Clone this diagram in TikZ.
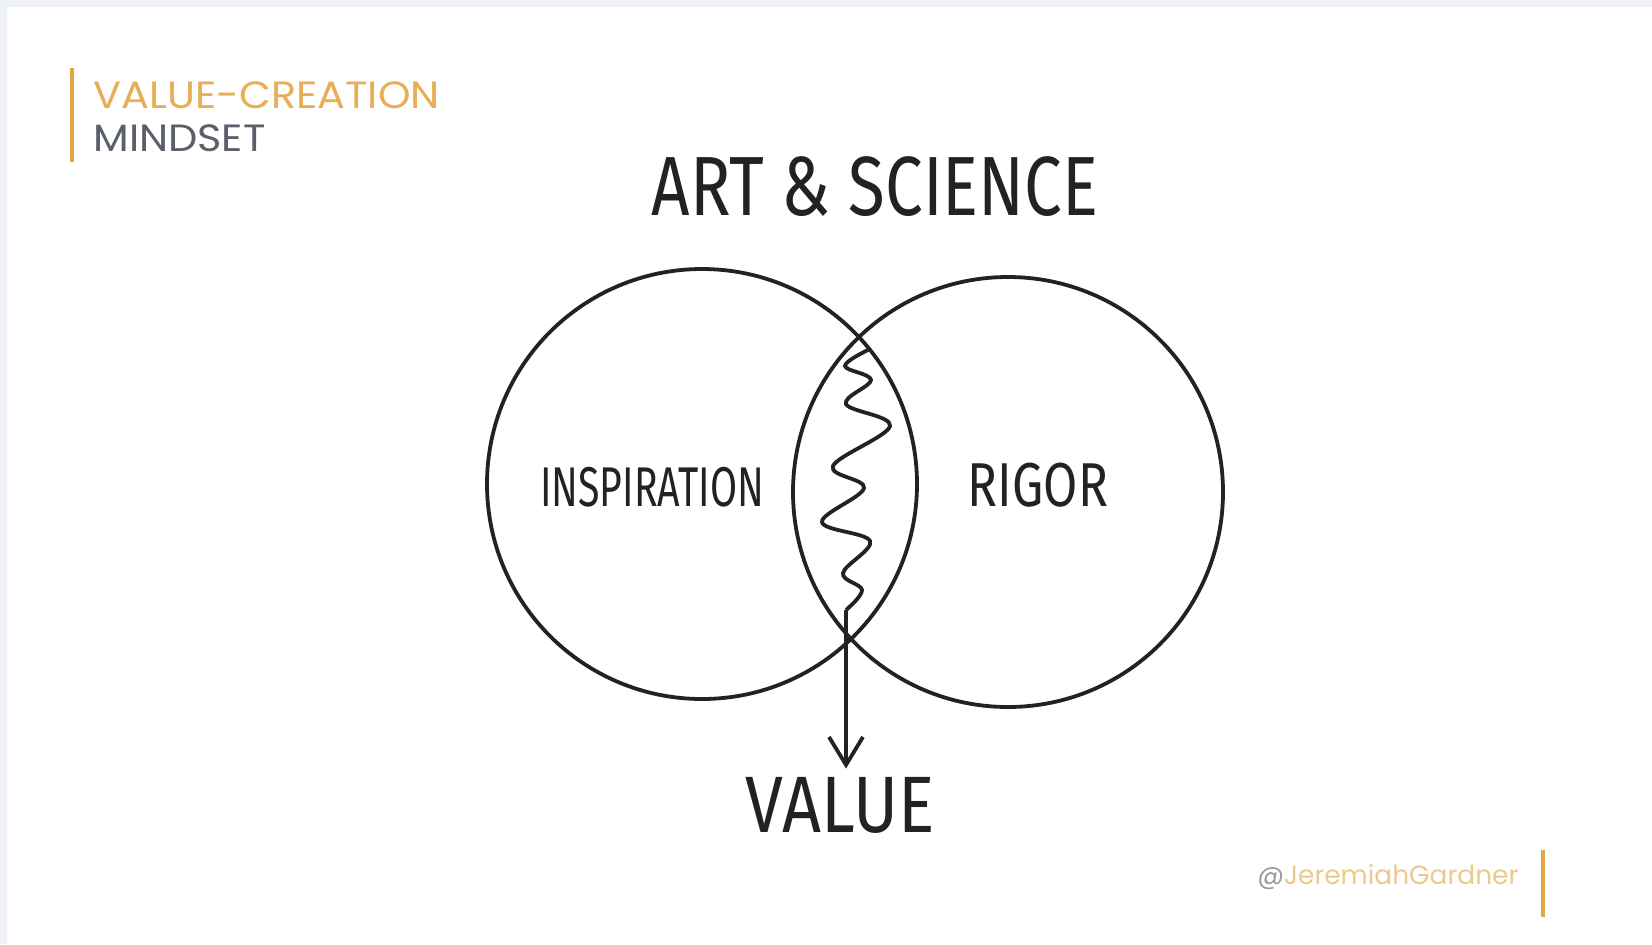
\documentclass[tikz,border=0pt]{standalone}
\usepackage{fontspec}
\setmainfont{Poppins}
\newfontfamily\headfont[FakeStretch=1.09]{Poppins}
\newfontfamily\sketchfont[FakeStretch=0.7]{Fira Sans}
\newfontfamily\widesketch[FakeStretch=0.8]{Fira Sans}
\newfontfamily\valuesketch[FakeStretch=0.85]{Fira Sans}
\usetikzlibrary{positioning,arrows.meta}
\definecolor{ink}{HTML}{222222}
\definecolor{headorange}{HTML}{E8AE55}
\definecolor{headgray}{HTML}{5A5F6B}
\definecolor{handleorange}{HTML}{EDC98C}
\definecolor{atgray}{HTML}{9A9A9A}
\definecolor{barorange}{HTML}{E3A646}
\definecolor{framegray}{HTML}{EEF2F6}

\begin{document}
\begin{tikzpicture}[x=0.5pt,y=-0.5pt,>={Straight Barb[length=14pt,width=17pt]},font=\sketchfont]
    \tikzstyle{ring}=[circle,draw=ink,line width=1.9pt,minimum size=215pt,inner sep=0pt]
    \tikzstyle{hand}=[text=ink,inner sep=0pt]
    \tikzstyle{bar}=[barorange,line width=2.2pt]
    \fill[framegray] (0,0) rectangle (1652,944);
    \fill[white] (7,7) rectangle (1652,944);
    \useasboundingbox (0,0) rectangle (1652,944);

    \node[anchor=west,inner sep=0pt,font=\headfont\fontsize{19}{22}\selectfont,text=headorange] (head) at (93,95) {VALUE-CREATION};
    \node[below right=7.5pt and 0pt of head.south west,inner sep=0pt,font=\headfont\fontsize{19}{22}\selectfont,text=headgray] (mind) {MINDSET};
    \draw[bar] (72,68) -- (72,162);

    \node[hand,font=\widesketch\fontsize{42}{48}\selectfont] (artsci) at (875,187) {ART \& SCIENCE};

    \node[ring] (inspire) at (702,484) {};
    \node[ring] (rigour) at (1008,492) {};
    \node[hand,font=\sketchfont\fontsize{28}{32}\selectfont] (insp) at (652,487) {INSPIRATION};
    \node[hand,font=\widesketch\fontsize{31}{36}\selectfont] (rig) at (1038,485) {RIGOR};

    \draw[ink,line width=1.9pt] plot[smooth,tension=0.6] coordinates {(868,350) (845,366) (871,380) (846,404) (890,426) (833,466) (864,488) (822,522) (870,541) (843,573) (862,590) (846,610)};
    \coordinate (zigend) at (846,610);

    \node[hand,inner sep=4pt,font=\valuesketch\fontsize{40}{46}\selectfont] (value) at (840,805) {VALUE};
    \draw[->,ink,line width=1.9pt] (zigend) -- (zigend |- value.north);

    \node[anchor=west,inner sep=0pt,font=\fontsize{13.2}{16}\selectfont,text=handleorange] (handle) at (1257,877) {{\color{atgray}@}JeremiahGardner};
    \draw[bar] (1543,850) -- (1543,917);
\end{tikzpicture}
\end{document}
